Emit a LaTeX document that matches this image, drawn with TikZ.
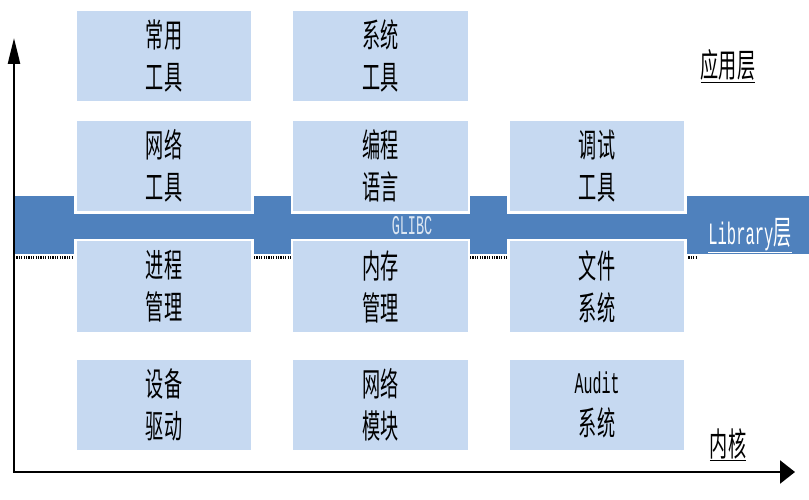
\documentclass[tikz,border=0pt]{standalone}
\usepackage{fontspec}
\usepackage{xcolor}
\usepackage{tikz}
\usetikzlibrary{arrows.meta,positioning}
\newfontfamily\cjk[FakeStretch=0.55]{Noto Sans CJK SC}
\newfontfamily\lat[FakeStretch=0.5]{Liberation Mono}
\definecolor{layerblue}{RGB}{79,129,189}
\definecolor{boxblue}{RGB}{198,217,241}
\definecolor{glibcwhite}{RGB}{220,230,242}

\begin{document}
\begin{tikzpicture}[
    x=1pt, y=-1pt,
    node distance=37pt,
    box/.style={rectangle, draw=white, line width=2.5pt, fill=boxblue, minimum width=177pt, minimum height=93pt, align=center, inner sep=0pt, font=\cjk\fontsize{33}{42}\selectfont},
    layer/.style={align=center, inner sep=0pt, font=\cjk\fontsize{33}{42}\selectfont},
    axis/.style={line width=2.5pt}
]
    \useasboundingbox (0,0) rectangle (809,500);

    % library band and kernel boundary
    \fill[layerblue] (14,196) rectangle (809,254);
    \draw[line width=3pt, dash pattern=on 1.2pt off 1.2pt] (14,257.5) -- (697,257.5);

    \node[box] at (164,56) (common) {常用\\工具};
    \node[box, right=of common] (system) {系统\\工具};
    \node[box] at (164,166) (net) {网络\\工具};
    \node[box, right=of net] (prog) {编程\\语言};
    \node[box, right=of prog] (debug) {调试\\工具};
    \node[box] at (164,286.5) (proc) {进程\\管理};
    \node[box, right=of proc] (mem) {内存\\管理};
    \node[box, right=of mem] (fs) {文件\\系统};
    \node[box] at (164,405) (dev) {设备\\驱动};
    \node[box, right=of dev] (netmod) {网络\\模块};
    \node[box, right=of netmod] (audit) {{\lat\fontsize{30}{42}\selectfont Audit}\\系统};

    \node[inner sep=0pt, text=glibcwhite, font=\lat\fontsize{27}{30}\selectfont] at (412,226) (glibc) {GLIBC};
    \node[layer, text=white] at (750,236) (lib) {\underline{{\lat\fontsize{31}{30}\selectfont Library}层}};
    \node[layer] at (728,66) (app) {\underline{应用层}};
    \node[layer] at (728,445) (kernel) {\underline{内核}};

    % axes
    \coordinate (origin) at (14,472);
    \coordinate (ytop) at (14,38);
    \coordinate (xend) at (795,472);
    \draw[axis, -{Triangle[length=26pt,width=12pt]}] (origin) -- (ytop);
    \draw[axis, -{Triangle[length=15pt,width=23pt]}] ([xshift=-1.25pt]origin) -- (xend);
\end{tikzpicture}
\end{document}
